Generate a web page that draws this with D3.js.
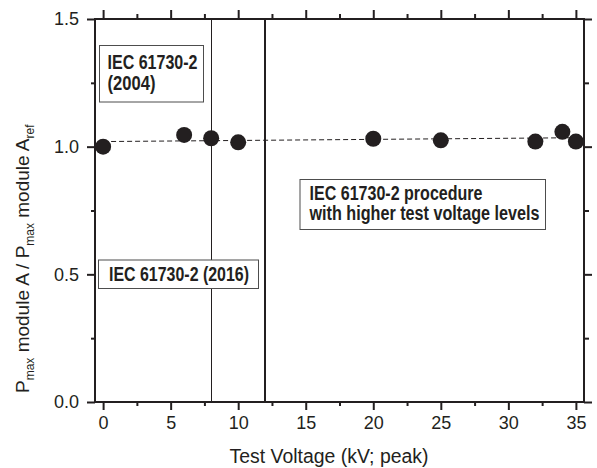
<!DOCTYPE html>
<html>
<head>
<meta charset="utf-8">
<script src="https://cdnjs.cloudflare.com/ajax/libs/d3/7.8.5/d3.min.js"></script>
<style>
  body { margin: 0; background: #fff; }
  text { font-family: Arial, "Liberation Sans", sans-serif; fill: #231f20; }
  .box text { font-family: "Liberation Sans Narrow", "Arial Narrow", "Liberation Sans", Arial, sans-serif; font-weight: bold; }
</style>
</head>
<body>
<div id="chart"></div>
<script>
// data
var voltage = [0, 6, 8, 10, 20, 25, 32, 34, 35];
var ratio = [1.000, 1.046, 1.033, 1.017, 1.031, 1.025, 1.020, 1.058, 1.020];
var fitX = [0, 35];
var fitY = [1.020, 1.035];
var stdLines = [8, 12];
var xTicks = [0, 5, 10, 15, 20, 25, 30, 35];
var xMinor = [2.5, 7.5, 12.5, 17.5, 22.5, 27.5, 32.5];
var yTicks = [0, 0.5, 1.0, 1.5];
var yMinor = [0.25, 0.75, 1.25];

window.onload = () => {
    var width = 597;
    var height = 468;
    var margin = { left: 95, top: 19, right: 13, bottom: 66 };
    var w = width - margin.left - margin.right;
    var h = height - margin.top - margin.bottom;

    var svg = d3.select("#chart")
        .append("svg")
        .attr("width", width)
        .attr("height", height);

    var g = svg.append("g")
        .attr("transform", "translate(" + margin.left + "," + margin.top + ")");

    var x = d3.scaleLinear().domain([-0.6, 35.6]).range([0, w]);
    var y = d3.scaleLinear().domain([0, 1.5]).range([h, 0]);

    // vertical lines marking the standards
    g.selectAll(".std")
        .data(stdLines)
        .enter()
        .append("line")
        .attr("x1", d => x(d))
        .attr("x2", d => x(d))
        .attr("y1", 0)
        .attr("y2", h)
        .attr("stroke", "#231f20")
        .attr("shape-rendering", "crispEdges")
        .attr("stroke-width", (d, i) => i == 0 ? 1 : 2);

    // axes
    function styleAxis(sel) {
        sel.select(".domain").remove();
        sel.selectAll("line").attr("stroke", "#231f20").attr("stroke-width", 2);
        sel.selectAll("text").attr("font-size", 18).attr("fill", "#231f20");
    }

    g.append("g")
        .attr("transform", "translate(0," + h + ")")
        .call(d3.axisBottom(x).tickValues(xTicks).tickSize(8).tickPadding(6).tickFormat(d3.format("d")))
        .call(styleAxis);
    g.append("g")
        .attr("transform", "translate(0," + h + ")")
        .call(d3.axisBottom(x).tickValues(xMinor).tickSize(4).tickFormat(""))
        .call(styleAxis);
    g.append("g")
        .call(d3.axisTop(x).tickValues(xTicks).tickSize(9).tickFormat(""))
        .call(styleAxis);
    g.append("g")
        .call(d3.axisTop(x).tickValues(xMinor).tickSize(5).tickFormat(""))
        .call(styleAxis);
    g.append("g")
        .call(d3.axisLeft(y).tickValues(yTicks).tickSize(8).tickPadding(8).tickFormat(d3.format(".1f")))
        .call(styleAxis);
    g.append("g")
        .call(d3.axisLeft(y).tickValues(yMinor).tickSize(4).tickFormat(""))
        .call(styleAxis);
    g.append("g")
        .attr("transform", "translate(" + w + ",0)")
        .call(d3.axisRight(y).tickValues(yTicks).tickSize(8).tickFormat(""))
        .call(styleAxis);
    g.append("g")
        .attr("transform", "translate(" + w + ",0)")
        .call(d3.axisRight(y).tickValues(yMinor).tickSize(5).tickFormat(""))
        .call(styleAxis);

    // frame
    g.append("rect")
        .attr("x", 0).attr("y", 0)
        .attr("width", w).attr("height", h)
        .attr("fill", "none")
        .attr("stroke", "#231f20")
        .attr("stroke-width", 2);

    // fit line
    var line = d3.line().x(d => x(d[0])).y(d => y(d[1]));
    g.append("path")
        .datum(d3.zip(fitX, fitY))
        .attr("d", line)
        .attr("fill", "none")
        .attr("stroke", "#231f20")
        .attr("stroke-width", 1)
        .attr("stroke-dasharray", "5,3");

    // points
    g.selectAll(".pt")
        .data(d3.zip(voltage, ratio))
        .enter()
        .append("circle")
        .attr("class", "pt")
        .attr("cx", d => x(d[0]))
        .attr("cy", d => y(d[1]))
        .attr("r", 8)
        .attr("fill", "#231f20");

    // annotation boxes
    function box(bx, by, bw, bh, lines) {
        var b = svg.append("g").attr("class", "box");
        b.append("rect")
            .attr("x", bx).attr("y", by)
            .attr("width", bw).attr("height", bh)
            .attr("fill", "#fff")
            .attr("stroke", "#4d4d4d")
            .attr("stroke-width", 1);
        lines.forEach(l => {
            b.append("text")
                .attr("x", l.x).attr("y", l.y)
                .attr("font-size", 20)
                .attr("textLength", l.len)
                .attr("lengthAdjust", "spacingAndGlyphs")
                .text(l.t);
        });
    }
    box(99.5, 45.5, 104, 56.5, [
        { t: "IEC 61730-2", x: 107.5, y: 68.5, len: 90 },
        { t: "(2004)", x: 107.5, y: 89.5, len: 48 }
    ]);
    box(98.5, 260, 160, 28.5, [
        { t: "IEC 61730-2 (2016)", x: 109, y: 281, len: 140 }
    ]);
    box(300, 179.5, 245.5, 50, [
        { t: "IEC 61730-2 procedure", x: 309.5, y: 199.5, len: 173 },
        { t: "with higher test voltage levels", x: 309.5, y: 219.5, len: 230 }
    ]);

    // axis titles
    svg.append("text")
        .attr("x", 329)
        .attr("y", 463)
        .attr("text-anchor", "middle")
        .attr("font-size", 20)
        .attr("textLength", 199)
        .attr("lengthAdjust", "spacingAndGlyphs")
        .text("Test Voltage (kV; peak)");

    var yt = svg.append("text")
        .attr("transform", "translate(28.5,393) rotate(-90)")
        .attr("text-anchor", "start")
        .attr("font-size", 19);
    var parts = [
        ["P", 0], ["max", 1], [" module A / P", 0], ["max", 1], [" module A", 0], ["ref", 1]
    ];
    parts.forEach((p, i) => {
        yt.append("tspan")
            .attr("font-size", p[1] ? 12 : 19)
            .attr("dy", p[1] ? 5 : (i > 0 ? -5 : 0))
            .text(p[0]);
    });
};
</script>
</body>
</html>
